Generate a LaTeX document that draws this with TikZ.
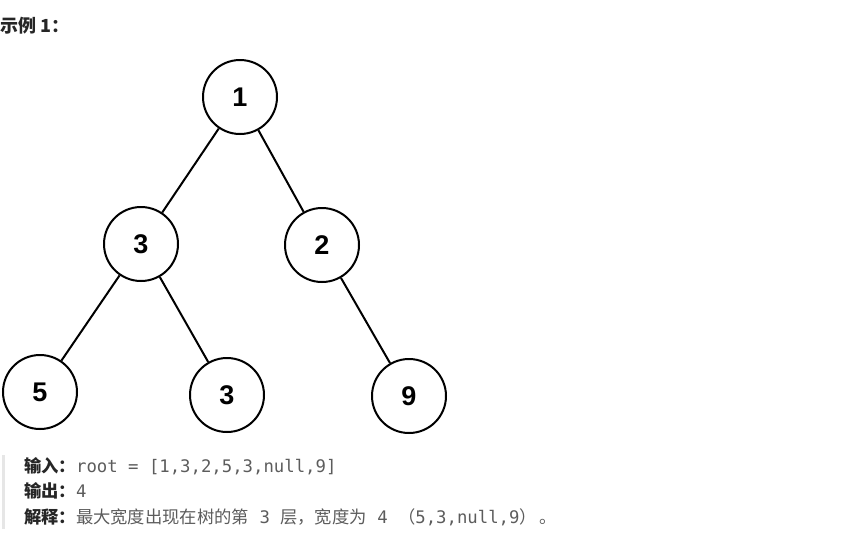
\documentclass[tikz,border=0pt]{standalone}
\usepackage{fontspec}
\setmainfont{Liberation Sans}
\newfontfamily\cjk{Noto Sans CJK SC}
\newfontfamily\monof{DejaVu Sans Mono}
\definecolor{txtgray}{HTML}{5C5C5C}
\definecolor{labelblack}{HTML}{262626}
\definecolor{barcol}{HTML}{E6E6E6}
\begin{document}
\begin{tikzpicture}[x=1pt,y=-1pt,
  treenode/.style={circle,draw=black,line width=2pt,minimum size=74pt,inner sep=0pt,
    font=\fontsize{27}{27}\selectfont\bfseries},
  edge/.style={line width=2pt,draw=black},
  infoline/.style={anchor=base west,inner sep=0pt,font=\fontsize{17.3}{17.3}\selectfont}
]
\useasboundingbox (0,0) rectangle (852,542);
\node[anchor=base west,inner sep=0pt,font=\cjk\fontsize{18}{18}\selectfont\bfseries,text=labelblack] (title) at (0,32) {示例 1：};

\node[treenode] (n1) at (240,97) {1};
\node[treenode] (n3) at (141,244) {3};
\node[treenode] (n2) at (322,245) {2};
\node[treenode] (n5) at (40,392) {5};
\node[treenode] (n3b) at (227,395) {3};
\node[treenode] (n9) at (409,396) {9};

\draw[edge] (n1) -- (n3);
\draw[edge] (n1) -- (n2);
\draw[edge] (n3) -- (n5);
\draw[edge] (n3) -- (n3b);
\draw[edge] (n2) -- (n9);

\fill[barcol] (2,455) rectangle (5,529);

\node[infoline] (l1) at (24,472) {{\cjk\bfseries\color{labelblack}输入：}{\monof\color{txtgray}root = [1,3,2,5,3,null,9]}};
\node[infoline] (l2) at (24,497) {{\cjk\bfseries\color{labelblack}输出：}{\monof\color{txtgray}4}};
\node[infoline] (l3) at (24,523) {{\cjk\bfseries\color{labelblack}解释：}{\color{txtgray}{\cjk 最大宽度出现在树的第}{\monof\ 3\ }{\cjk 层，宽度为}{\monof\ 4\ }{\cjk （}{\monof 5,3,null,9}{\cjk ）\,。}}};
\end{tikzpicture}
\end{document}
